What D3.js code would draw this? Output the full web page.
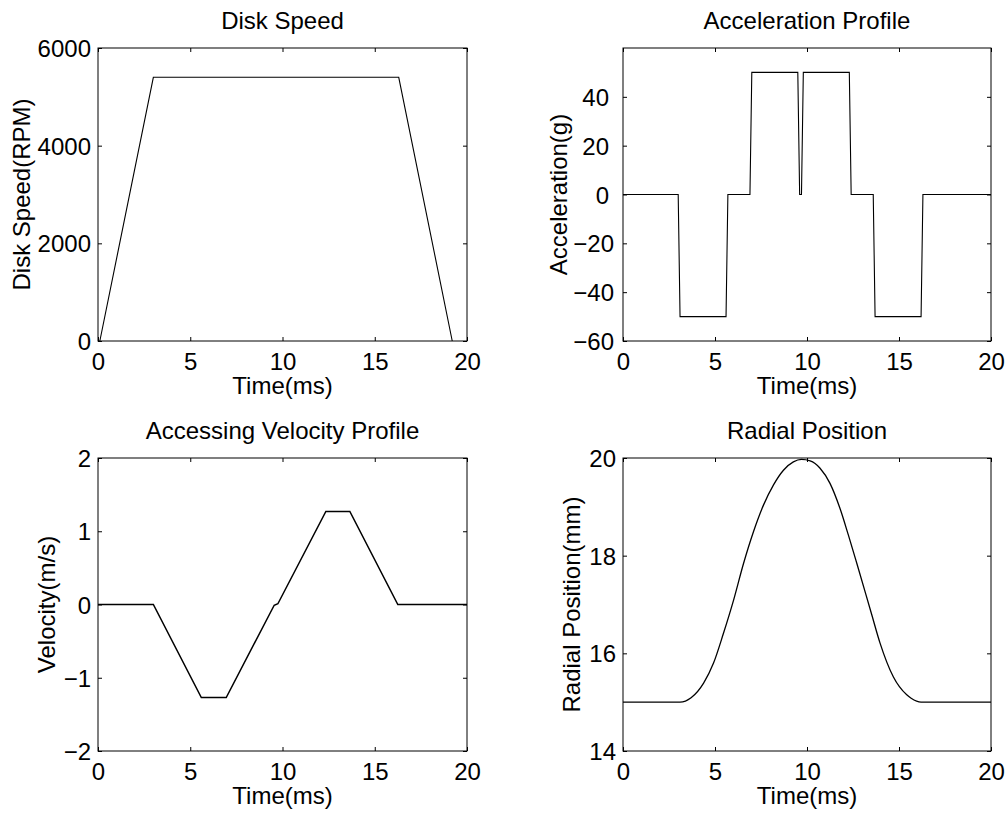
<!DOCTYPE html>
<html>
<head>
<meta charset="utf-8">
<script src="https://cdn.jsdelivr.net/npm/d3@7"></script>
<style>
  body { margin: 0; background: #fff; }
  svg { display: block; }
  text { font-family: "Liberation Sans", Arial, Helvetica, sans-serif; font-size: 24px; fill: #000; }
</style>
</head>
<body>
<div id="chart"></div>
<script>
// values
const timeTicks = [0, 5, 10, 15, 20];

const speedT = [0.1, 3.0, 16.3, 19.2];
const speedRpm = [0, 5400, 5400, 0];
const speedTicks = [0, 2000, 4000, 6000];

const accT = [0, 3.0, 3.1, 5.6, 5.7, 6.9, 7.0, 9.5, 9.6, 9.7, 9.8, 12.3, 12.4, 13.6, 13.7, 16.2, 16.3, 20];
const accG = [0, 0, -50, -50, 0, 0, 50, 50, 0, 0, 50, 50, 0, 0, -50, -50, 0, 0];
const accTicks = [-60, -40, -20, 0, 20, 40];

const velT = [0, 3.0, 5.6, 6.95, 9.55, 9.75, 12.35, 13.65, 16.25, 20];
const velMs = [0, 0, -1.27, -1.27, -0.01, 0.01, 1.27, 1.27, 0, 0];
const velTicks = [-2, -1, 0, 1, 2];

const posT = [0, 3.1, 3.7, 4.38, 4.92, 5.46, 6.01, 6.55, 7.09, 7.64, 8.18, 8.72, 9.26, 9.7,
  10.17, 10.71, 11.25, 11.79, 12.25, 12.71, 13.52, 13.97, 14.69, 15.42, 15.66, 16.2, 20];
const posMm = [15, 15, 15.09, 15.39, 15.8, 16.41, 17.09, 17.84, 18.49, 19.04, 19.45, 19.75, 19.92, 19.97,
  19.94, 19.79, 19.48, 18.97, 18.42, 17.84, 16.79, 16.21, 15.52, 15.15, 15.08, 15, 15];
const posTicks = [14, 16, 18, 20];

const panels = [
  { title: "Disk Speed", ylabel: "Disk Speed(RPM)", t: speedT, v: speedRpm, yDomain: [0, 6000], yTicks: speedTicks,
    box: [98, 48, 467, 341], ylabelX: 30, curve: d3.curveLinear, sw: 1.1 },
  { title: "Acceleration Profile", ylabel: "Acceleration(g)", t: accT, v: accG, yDomain: [-60, 60], yTicks: accTicks,
    box: [623, 48, 991, 341], ylabelX: 567, curve: d3.curveLinear, sw: 1.1, posShift: 5 },
  { title: "Accessing Velocity Profile", ylabel: "Velocity(m/s)", t: velT, v: velMs, yDomain: [-2, 2], yTicks: velTicks,
    box: [98, 458, 467, 751], ylabelX: 55, curve: d3.curveLinear, sw: 1.5 },
  { title: "Radial Position", ylabel: "Radial Position(mm)", t: posT, v: posMm, yDomain: [14, 20], yTicks: posTicks,
    box: [623, 458, 991, 751], ylabelX: 580, curve: d3.curveMonotoneX, sw: 1.3 }
];

const svg = d3.select("#chart").append("svg")
  .attr("width", 1008)
  .attr("height", 813);

const tickLen = 4;
const fmt = d => d < 0 ? "\u2212" + Math.abs(d) : String(d);

panels.forEach(p => {
  const [x0, y0, x1, y1] = p.box;
  const x = d3.scaleLinear().domain([0, 20]).range([x0, x1]);
  const y = d3.scaleLinear().domain(p.yDomain).range([y1, y0]);
  const g = svg.append("g");

  // data line
  const pts = p.t.map((t, i) => [t, p.v[i]]);
  g.append("path")
    .datum(pts)
    .attr("fill", "none")
    .attr("stroke", "#000")
    .attr("stroke-width", p.sw)
    .attr("d", d3.line().x(d => x(d[0])).y(d => y(d[1])).curve(p.curve));

  // ticks on all four sides, pointing inward
  const bottom = g.append("g").attr("transform", `translate(0,${y1})`)
    .call(d3.axisBottom(x).tickValues(timeTicks).tickSize(-tickLen).tickFormat(fmt));
  const top = g.append("g").attr("transform", `translate(0,${y0})`)
    .call(d3.axisTop(x).tickValues(timeTicks).tickSize(-tickLen).tickFormat(""));
  const left = g.append("g").attr("transform", `translate(${x0},0)`)
    .call(d3.axisLeft(y).tickValues(p.yTicks).tickSize(-tickLen).tickFormat(fmt));
  const right = g.append("g").attr("transform", `translate(${x1},0)`)
    .call(d3.axisRight(y).tickValues(p.yTicks).tickSize(-tickLen).tickFormat(""));

  [bottom, top, left, right].forEach(a => {
    a.select(".domain").remove();
    a.selectAll("line").attr("stroke", "#000");
    a.selectAll("text").attr("font-size", null).attr("font-family", null).attr("fill", "#000");
  });
  bottom.selectAll("text").attr("dy", null).attr("y", 29);
  left.selectAll("text").attr("dy", "0.36em")
    .attr("x", d => -7 - (p.posShift && d >= 0 ? p.posShift : 0) - (p.posShift ? 2 : 0));

  // frame
  g.append("rect")
    .attr("x", x0).attr("y", y0)
    .attr("width", x1 - x0).attr("height", y1 - y0)
    .attr("fill", "none").attr("stroke", "#000").attr("stroke-width", 1);

  // title and labels
  g.append("text")
    .attr("x", (x0 + x1) / 2).attr("y", y0 - 19)
    .attr("text-anchor", "middle")
    .text(p.title);
  g.append("text")
    .attr("x", (x0 + x1) / 2).attr("y", y1 + 53)
    .attr("text-anchor", "middle")
    .text("Time(ms)");
  g.append("text")
    .attr("transform", `translate(${p.ylabelX},${(y0 + y1) / 2}) rotate(-90)`)
    .attr("text-anchor", "middle")
    .text(p.ylabel);
});
</script>
</body>
</html>
